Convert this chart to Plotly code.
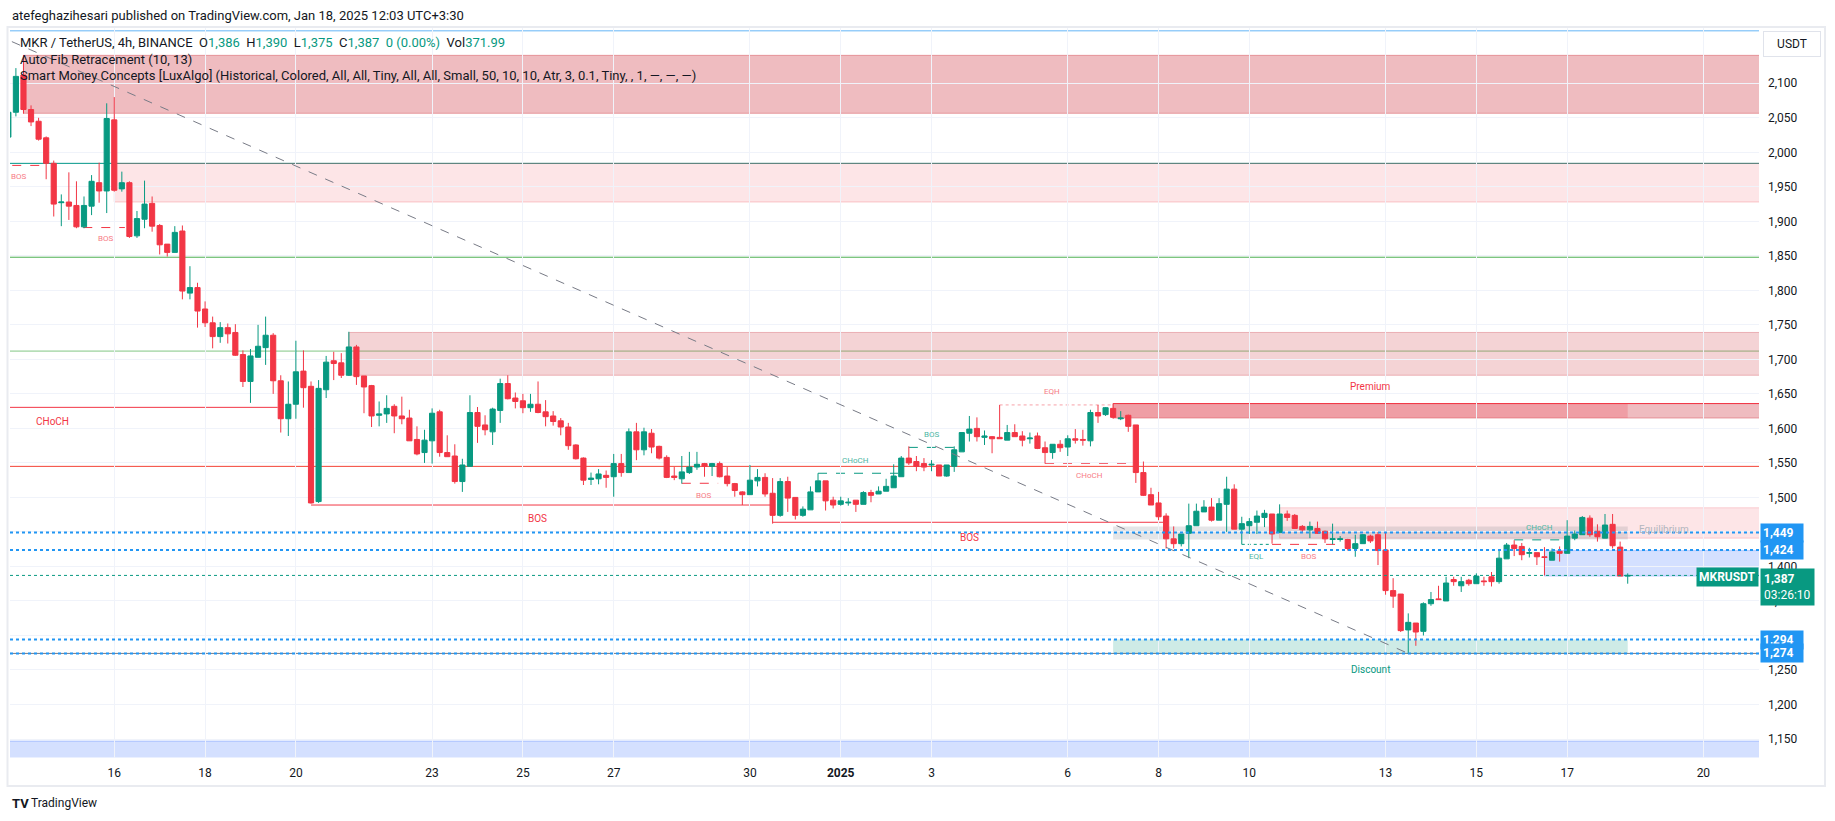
import pandas as pd
import plotly.graph_objects as go

# ---------------- data (4h candles, MKR/USDT) ----------------
opens = [2022, 2058, 2112, 2062, 2045, 2021, 1984, 1927, 1928, 1923,
         1892, 1922, 1956, 1944, 2047, 1947, 1956, 1879, 1903, 1926,
         1894, 1867, 1855, 1886, 1796, 1804, 1773, 1753, 1733, 1746,
         1739, 1707, 1668, 1703, 1717, 1735, 1669, 1614, 1635, 1683,
         1661, 1494, 1656, 1698, 1695, 1677, 1718, 1676, 1662, 1619,
         1621, 1632, 1618, 1615, 1584, 1565, 1582, 1624, 1565, 1560,
         1523, 1545, 1623, 1605, 1595, 1626, 1665, 1644, 1640, 1630,
         1635, 1624, 1618, 1611, 1602, 1576, 1557, 1526, 1527, 1532,
         1530, 1549, 1536, 1595, 1569, 1593, 1574, 1558, 1531, 1527,
         1536, 1544, 1549, 1545, 1549, 1531, 1520, 1508, 1504, 1524,
         1529, 1506, 1474, 1523, 1500, 1474, 1482, 1508, 1524, 1496,
         1490, 1492, 1496, 1490, 1507, 1505, 1509, 1514, 1530, 1557,
         1552, 1549, 1547, 1547, 1531, 1545, 1566, 1593, 1600, 1587,
         1588, 1587, 1583, 1594, 1589, 1585, 1589, 1572, 1565, 1577,
         1573, 1585, 1584, 1582, 1623, 1620, 1629, 1614, 1619, 1605,
         1536, 1504, 1492, 1473, 1440, 1433, 1448, 1459, 1479, 1486,
         1467, 1490, 1512, 1454, 1459, 1464, 1471, 1476, 1449, 1476,
         1474, 1458, 1453, 1455, 1451, 1439, 1439, 1439, 1426, 1433,
         1444, 1446, 1424, 1365, 1360, 1308, 1318, 1306, 1346, 1353,
         1350, 1381, 1372, 1380, 1375, 1379, 1385, 1378, 1411, 1431,
         1429, 1419, 1420, 1414, 1409, 1422, 1419, 1441, 1446, 1470,
         1451, 1441, 1461, 1428, 1386]
highs = [2068, 2122, 2141, 2068, 2050, 2023, 1988, 1939, 1971, 1958,
         1936, 1967, 1985, 2071, 2080, 1972, 1958, 1915, 1959, 1936,
         1896, 1867, 1893, 1894, 1835, 1811, 1784, 1762, 1754, 1752,
         1751, 1713, 1715, 1750, 1762, 1738, 1677, 1668, 1727, 1713,
         1668, 1670, 1705, 1711, 1709, 1740, 1721, 1676, 1663, 1639,
         1648, 1635, 1646, 1627, 1603, 1598, 1629, 1627, 1590, 1577,
         1556, 1648, 1631, 1619, 1630, 1672, 1677, 1652, 1650, 1650,
         1668, 1641, 1625, 1615, 1608, 1577, 1558, 1536, 1541, 1539,
         1563, 1563, 1600, 1608, 1601, 1599, 1575, 1561, 1544, 1560,
         1566, 1566, 1550, 1550, 1552, 1544, 1521, 1509, 1547, 1541,
         1535, 1528, 1528, 1530, 1500, 1487, 1516, 1535, 1524, 1501,
         1501, 1499, 1496, 1509, 1511, 1516, 1527, 1548, 1560, 1574,
         1560, 1557, 1554, 1547, 1547, 1574, 1594, 1618, 1616, 1597,
         1589, 1634, 1605, 1606, 1596, 1594, 1594, 1581, 1577, 1583,
         1590, 1599, 1598, 1627, 1634, 1631, 1636, 1625, 1620, 1605,
         1552, 1514, 1508, 1477, 1458, 1447, 1491, 1491, 1496, 1499,
         1499, 1530, 1519, 1472, 1470, 1481, 1482, 1476, 1490, 1481,
         1476, 1460, 1465, 1465, 1452, 1462, 1444, 1440, 1446, 1447,
         1446, 1450, 1450, 1383, 1360, 1332, 1318, 1348, 1363, 1372,
         1385, 1385, 1385, 1382, 1390, 1385, 1392, 1424, 1434, 1438,
         1434, 1427, 1420, 1428, 1426, 1429, 1467, 1452, 1473, 1474,
         1461, 1476, 1476, 1436, 1390]
lows = [2015, 2052, 2056, 2038, 2017, 1961, 1907, 1893, 1902, 1890,
        1890, 1909, 1927, 1912, 1943, 1943, 1876, 1876, 1890, 1885,
        1852, 1849, 1855, 1787, 1787, 1746, 1747, 1716, 1724, 1723,
        1705, 1660, 1637, 1703, 1692, 1650, 1594, 1589, 1614, 1630,
        1491, 1492, 1644, 1670, 1673, 1676, 1663, 1622, 1602, 1603,
        1608, 1593, 1606, 1582, 1561, 1550, 1549, 1559, 1559, 1520,
        1508, 1545, 1579, 1590, 1576, 1608, 1642, 1629, 1622, 1624,
        1622, 1603, 1604, 1590, 1569, 1555, 1518, 1518, 1519, 1514,
        1501, 1530, 1536, 1554, 1561, 1564, 1555, 1528, 1525, 1520,
        1534, 1540, 1530, 1531, 1529, 1516, 1501, 1489, 1504, 1516,
        1501, 1462, 1472, 1479, 1468, 1472, 1482, 1508, 1481, 1484,
        1488, 1488, 1479, 1490, 1493, 1505, 1509, 1514, 1530, 1547,
        1538, 1538, 1538, 1531, 1530, 1537, 1566, 1581, 1581, 1576,
        1564, 1585, 1583, 1588, 1574, 1578, 1570, 1549, 1556, 1566,
        1560, 1578, 1575, 1574, 1608, 1618, 1614, 1612, 1595, 1521,
        1502, 1489, 1467, 1426, 1426, 1429, 1412, 1459, 1479, 1465,
        1467, 1450, 1454, 1432, 1447, 1447, 1457, 1433, 1449, 1466,
        1455, 1450, 1441, 1447, 1434, 1432, 1436, 1423, 1414, 1433,
        1434, 1402, 1359, 1340, 1305, 1273, 1285, 1300, 1343, 1352,
        1350, 1372, 1363, 1372, 1375, 1372, 1371, 1375, 1411, 1415,
        1409, 1413, 1402, 1387, 1409, 1407, 1419, 1438, 1446, 1443,
        1436, 1441, 1426, 1386, 1375]
closes = [2058, 2110, 2062, 2044, 2019, 1984, 1925, 1928, 1922, 1892,
          1923, 1958, 1944, 2049, 1945, 1956, 1878, 1904, 1925, 1893,
          1866, 1855, 1884, 1799, 1804, 1770, 1753, 1733, 1746, 1737,
          1706, 1668, 1705, 1719, 1735, 1669, 1614, 1635, 1682, 1659,
          1492, 1658, 1696, 1694, 1677, 1718, 1675, 1660, 1618, 1621,
          1629, 1618, 1614, 1582, 1563, 1583, 1622, 1565, 1559, 1523,
          1547, 1623, 1603, 1598, 1628, 1665, 1643, 1639, 1630, 1635,
          1623, 1617, 1610, 1602, 1575, 1556, 1525, 1528, 1534, 1529,
          1549, 1536, 1595, 1569, 1595, 1573, 1557, 1529, 1529, 1537,
          1544, 1548, 1545, 1549, 1530, 1520, 1510, 1504, 1525, 1529,
          1505, 1474, 1523, 1499, 1474, 1483, 1508, 1524, 1495, 1489,
          1495, 1493, 1490, 1507, 1503, 1509, 1516, 1531, 1557, 1550,
          1545, 1544, 1548, 1531, 1547, 1569, 1594, 1599, 1588, 1589,
          1585, 1585, 1594, 1588, 1583, 1586, 1571, 1565, 1577, 1572,
          1585, 1583, 1583, 1623, 1618, 1630, 1616, 1615, 1603, 1536,
          1503, 1489, 1472, 1440, 1433, 1447, 1459, 1480, 1486, 1467,
          1491, 1512, 1454, 1462, 1465, 1473, 1477, 1447, 1476, 1471,
          1455, 1453, 1458, 1448, 1440, 1440, 1440, 1426, 1433, 1446,
          1437, 1423, 1365, 1357, 1307, 1319, 1305, 1346, 1352, 1352,
          1376, 1378, 1378, 1375, 1386, 1378, 1378, 1412, 1431, 1426,
          1417, 1420, 1414, 1413, 1421, 1419, 1444, 1447, 1471, 1446,
          1443, 1460, 1430, 1386, 1387]

first_bar = "2024-12-13 16:00"

# Auto Fib retracement levels (0, 0.236, 0.382, 0.5, 0.618, 0.786)
fib_prices = [1274, 1545, 1712, 1848, 1984, 2176]
fib_colors = ["#787B86", "#F44336", "#81C784", "#4CAF50", "#009688", "#64B5F6"]
fib_anchor_prices = [2422, 1274]

# horizontal dotted price levels
blue_levels = [1449, 1424, 1294, 1274]
last_price = 1387

date_ticks = ["2024-12-16", "2024-12-18", "2024-12-20", "2024-12-23", "2024-12-25",
              "2024-12-27", "2024-12-30", "2025-01-01", "2025-01-03", "2025-01-06",
              "2025-01-08", "2025-01-10", "2025-01-13", "2025-01-15", "2025-01-17",
              "2025-01-20"]
date_labels = ["16", "18", "20", "23", "25", "27", "30", "<b>2025</b>", "3", "6",
               "8", "10", "13", "15", "17", "20"]
price_ticks = [1150, 1200, 1250, 1300, 1350, 1400, 1450, 1500, 1550, 1600, 1650,
               1700, 1750, 1800, 1850, 1900, 1950, 2000, 2050, 2100]
# labels hidden behind the price boxes are left blank
price_labels = ["1,150", "1,200", "1,250", "", "1,350", "1,400", "", "1,500", "1,550",
                "1,600", "1,650", "1,700", "1,750", "1,800", "1,850", "1,900", "1,950",
                "2,000", "2,050", "2,100"]

# ---------------- helpers ----------------
W, H = 1835, 821
times = pd.date_range(first_bar, periods=len(opens), freq="4h")
T0 = times[1]
BAR = pd.Timedelta(hours=4)


def t(k):
    return T0 + BAR * k


X_LEFT, X_RIGHT = t(-0.78), t(230.35)
Y_LOW, Y_HIGH = 1123.2, 2180.1
GREEN, RED = "#089981", "#F23645"
FONT = "Roboto, Liberation Sans, Arial, sans-serif"

fig = go.Figure()

# fib trend line (dashed)
fig.add_trace(go.Scatter(
    x=[t(-55), t(184)], y=fib_anchor_prices, mode="lines",
    line=dict(color="#787B86", width=1, dash="dash"), hoverinfo="skip", showlegend=False))

fig.add_trace(go.Candlestick(
    x=times, open=opens, high=highs, low=lows, close=closes,
    increasing=dict(line=dict(color=GREEN, width=1), fillcolor=GREEN),
    decreasing=dict(line=dict(color=RED, width=1), fillcolor=RED),
    whiskerwidth=0, showlegend=False, hoverinfo="skip"))

shapes = []


def box(x0, x1, y0, y1, fill, line="rgba(0,0,0,0)", lw=1):
    shapes.append(dict(type="rect", xref="x", yref="y", x0=x0, x1=x1, y0=y0, y1=y1,
                       fillcolor=fill, line=dict(color=line, width=lw), layer="below"))


def hline(y, color, x0=None, x1=None, dash="solid", width=1, layer="below"):
    if x0 is None:
        shapes.append(dict(type="line", xref="x domain", yref="y", x0=0, x1=1, y0=y, y1=y,
                           line=dict(color=color, width=width, dash=dash), layer=layer))
    else:
        shapes.append(dict(type="line", xref="x", yref="y", x0=x0, x1=x1, y0=y, y1=y,
                           line=dict(color=color, width=width, dash=dash), layer=layer))


FAR = t(260)
# zones
box(t(1), FAR, 2056.5, 2140.5, "rgba(210,70,80,0.36)", "rgba(210,70,80,0.45)")
box(t(13), FAR, 1928, 1984, "rgba(242,54,69,0.13)", "rgba(242,54,69,0.25)")
box(t(44), FAR, 1677, 1739, "rgba(210,70,80,0.24)", "rgba(210,70,80,0.35)")
box(t(145), FAR, 1615, 1636, "rgba(210,70,80,0.36)", "rgba(210,70,80,0.45)")
box(t(145), t(213), 1615, 1636, "rgba(242,54,69,0.22)")
box(t(167), FAR, 1441, 1485, "rgba(242,54,69,0.13)", "rgba(242,54,69,0.2)")
box(t(145), t(213), 1439, 1458, "rgba(120,123,134,0.2)")
box(t(202), FAR, 1386, 1423, "rgba(41,98,255,0.2)", "rgba(41,98,255,0.25)")
box(t(145), t(213), 1274, 1294, "rgba(8,153,129,0.2)")
box(t(-10), FAR, Y_LOW - 5, 1147, "rgba(41,98,255,0.2)", "rgba(41,98,255,0.3)")

# fib levels
for p, c in zip(fib_prices, fib_colors):
    hline(p, c)

# structure lines
hline(1630.5, RED, t(-10), t(34.6))
hline(1636, RED, t(145), FAR)
hline(1489, RED, t(39), t(100))
hline(1464, RED, t(100), t(151.6))
hline(1981, RED, t(-10), t(3.8), dash="dash")
hline(1891, RED, t(8.9), t(14.4), dash="dash")
hline(1520.5, RED, t(88), t(92.8), dash="dash")
hline(1535, GREEN, t(106), t(116.6), dash="dash")
hline(1572.5, GREEN, t(118), t(124.4), dash="dash")
hline(1634, "#F7A1A8", t(130), t(145), dash="dot")
hline(1549.5, RED, t(136), t(147.6), dash="dash")
hline(1432, GREEN, t(162), t(165.8), dash="dot")
hline(1432, RED, t(166), t(175.4), dash="dash")
hline(1438.5, GREEN, t(198), t(204.5), dash="dash")

# dotted price levels
for p in blue_levels:
    hline(p, "#2196F3", dash="dot", width=2, layer="above")
hline(last_price, GREEN, dash="dot", width=1, layer="above")

# chart frame
shapes.append(dict(type="rect", xref="paper", yref="paper", x0=7.5 / W, x1=1825 / W,
                   y0=(H - 786) / H, y1=(H - 27) / H, line=dict(color="#E9EBF0", width=2),
                   fillcolor="rgba(0,0,0,0)", layer="below"))

ann = []


def label(k, p, text, color, size=9):
    ann.append(dict(x=t(k), y=p, xref="x", yref="y", text=text, showarrow=False,
                    font=dict(family=FONT, size=size, color=color), xanchor="center", yanchor="middle"))


SRED, SGREEN = "#F77C86", "#4DB6A4"
label(0.3, 1964.7, "BOS", SRED, 8)
label(11.87, 1874.9, "BOS", SRED, 8)
label(90.8, 1502.5, "BOS", SRED, 8)
label(110.9, 1553.2, "CHoCH", SGREEN, 8)
label(121, 1591.5, "BOS", SGREEN, 8)
label(136.9, 1653.2, "EQH", SRED, 8)
label(141.9, 1531.5, "CHoCH", SRED, 8)
label(164, 1414, "EQL", SGREEN, 8)
label(170.8, 1414, "BOS", SRED, 8)
label(201.4, 1456.7, "CHoCH", SGREEN, 8)
label(4.9, 1609.3, "CHoCH", RED, 10)
label(68.9, 1469.5, "BOS", RED, 10)
label(126, 1441.9, "BOS", RED, 10)
label(179, 1660, "Premium", RED, 10)
label(179, 1251.4, "Discount", GREEN, 10)
label(217.8, 1454.2, "Equilibrium", "#B2B5BE", 10)


def ptxt(xpx, ypx, text, size=13, color="#131722", xanchor="left", **kw):
    d = dict(x=xpx / W, y=(H - ypx) / H, xref="paper", yref="paper", text=text, showarrow=False,
             font=dict(family=FONT, size=size, color=color), xanchor=xanchor, yanchor="middle")
    d.update(kw)
    ann.append(d)


def g(s):
    return '<span style="color:#089981">%s</span>' % s


ptxt(10, 15, "atefeghazihesari published on TradingView.com, Jan 18, 2025 12:03 UTC+3:30", 13)
ptxt(18, 42, "MKR / TetherUS, 4h, BINANCE&nbsp;&nbsp;O" + g("1,386") + "&nbsp;&nbsp;H" + g("1,390")
     + "&nbsp;&nbsp;L" + g("1,375") + "&nbsp;&nbsp;C" + g("1,387") + "&nbsp;&nbsp;" + g("0 (0.00%)")
     + "&nbsp;&nbsp;Vol" + g("371.99"), 13)
ptxt(18, 59, "Auto Fib Retracement (10, 13)", 13)
ptxt(18, 76, "Smart Money Concepts [LuxAlgo] (Historical, Colored, All, All, Tiny, All, All, Small, "
     "50, 10, 10, Atr, 3, 0.1, Tiny, , 1, —, —, —)", 13)

# right axis boxes
ptxt(1792, 44, "USDT", 12, xanchor="center", bordercolor="#E0E3EB", borderwidth=1, borderpad=5,
     width=46, bgcolor="white")


def pbox(price, text, bg=GREEN, xpx=1760, xanchor="left", width=None, size=12):
    d = dict(x=xpx / W, y=price, xref="paper", yref="y", text="<b>%s</b>" % text, showarrow=False,
             font=dict(family=FONT, size=size, color="white"), bgcolor=bg, borderpad=2,
             xanchor=xanchor, yanchor="middle", align="left")
    if width:
        d["width"] = width
    ann.append(d)


for p in blue_levels:
    pbox(p, "{:,}".format(p), "#2196F3", width=38)
pbox(1385, "MKRUSDT", GREEN, xpx=1758.5, xanchor="right")
ann.append(dict(x=1760 / W, y=(H - 568) / H, xref="paper", yref="paper",
                text="<b>1,387</b><br>03:26:10", showarrow=False, align="left",
                font=dict(family=FONT, size=12, color="white"), bgcolor=GREEN, borderpad=3,
                xanchor="left", yanchor="top"))

# footer
ptxt(10, 803, "<b>TV</b>", 13, color="#131722")
ptxt(29, 803, "TradingView", 12, color="#131722")

fig.update_layout(
    width=W, height=H, margin=dict(l=0, r=0, t=0, b=0),
    paper_bgcolor="white", plot_bgcolor="white",
    shapes=shapes, annotations=ann, showlegend=False,
    boxgap=0.2, boxgroupgap=0.15, hovermode=False,
    font=dict(family=FONT, color="#131722"),
    xaxis=dict(domain=[10 / W, 1759 / W], range=[X_LEFT, X_RIGHT], type="date",
               tickvals=date_ticks, ticktext=date_labels, showgrid=True, gridcolor="#F0F3FA",
               zeroline=False, showline=False, ticks="", ticklabelstandoff=6,
               tickfont=dict(size=12, color="#131722"), rangeslider=dict(visible=False)),
    yaxis=dict(domain=[(H - 757.5) / H, (H - 28) / H], range=[Y_LOW, Y_HIGH], side="right",
               tickvals=price_ticks, ticktext=price_labels, showgrid=True, gridcolor="#F0F3FA",
               zeroline=False, showline=False, ticks="", ticklabelstandoff=8,
               tickfont=dict(size=12, color="#131722")),
)

fig.write_html("out.html", config={"displayModeBar": False},
               post_script="document.body.style.margin='0';document.body.style.overflow='hidden';")
